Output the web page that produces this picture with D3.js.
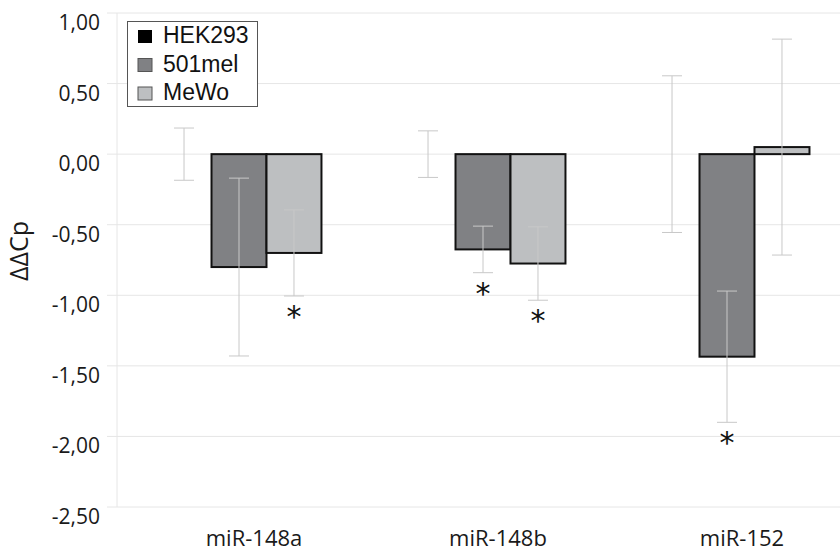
<!DOCTYPE html>
<html>
<head>
<meta charset="utf-8">
<script src="https://cdnjs.cloudflare.com/ajax/libs/d3/7.8.5/d3.min.js"></script>
<style>
  body { margin: 0; background: #fff; }
  svg { display: block; }
</style>
</head>
<body>
<svg id="chart" width="840" height="553"></svg>
<script>
// data
var categories = ["miR-148a", "miR-148b", "miR-152"];
var seriesNames = ["HEK293", "501mel", "MeWo"];
var hek293 = [0, 0, 0];
var hek293Err = [0.185, 0.165, 0.555];
var mel501 = [-0.80, -0.675, -1.435];
var mel501Err = [0.63, 0.165, 0.465];
var mewo = [-0.70, -0.775, 0.05];
var mewoErr = [0.305, 0.26, 0.765];
var mel501Sig = [false, true, true];
var mewoSig = [true, true, false];
var yTicks = [1, 0.5, 0, -0.5, -1, -1.5, -2, -2.5];

var colors = { "HEK293": "#000000", "501mel": "#808184", "MeWo": "#bdbfc1" };

var svg = d3.select("#chart");
var plotLeft = 117, plotRight = 849, plotTop = 13, plotBottom = 507;

var y = d3.scaleLinear().domain([-2.5, 1]).range([plotBottom, plotTop]);
var x0 = d3.scaleBand().domain(categories).range([plotLeft, plotRight])
    .paddingInner(0.324).paddingOuter(0.162);
var x1 = d3.scaleBand().domain(seriesNames).range([0, x0.bandwidth()]);

var rows = [];
categories.forEach(function (c, i) {
    rows.push({ cat: c, s: "HEK293", v: hek293[i], e: hek293Err[i], sig: false });
    rows.push({ cat: c, s: "501mel", v: mel501[i], e: mel501Err[i], sig: mel501Sig[i] });
    rows.push({ cat: c, s: "MeWo", v: mewo[i], e: mewoErr[i], sig: mewoSig[i] });
});

// gridlines
svg.append("g").selectAll("line")
    .data(yTicks)
    .enter().append("line")
    .attr("x1", plotLeft - 10).attr("x2", 840)
    .attr("y1", function (d) { return y(d); })
    .attr("y2", function (d) { return y(d); })
    .attr("stroke", "#e6e6e6").attr("stroke-width", 1);

svg.append("line")
    .attr("x1", plotLeft).attr("x2", plotLeft)
    .attr("y1", plotTop).attr("y2", plotBottom)
    .attr("stroke", "#e6e6e6");

// y tick labels (sit a bit below their gridline in the original)
var fmt = function (d) { return d3.format(".2f")(d).replace(".", ",").replace("−", "-"); };
svg.append("g").selectAll("text")
    .data(yTicks)
    .enter().append("text")
    .attr("x", 100)
    .attr("y", function (d) { return y(d) + 17; })
    .attr("text-anchor", "end")
    .attr("font-family", "Open Sans")
    .attr("font-size", 21)
    .attr("fill", "#1a1a1a")
    .text(fmt);

// bars
var bars = svg.append("g");
bars.selectAll("rect")
    .data(rows.filter(function (d) { return d.v !== 0; }))
    .enter().append("rect")
    .attr("x", function (d) { return x0(d.cat) + x1(d.s); })
    .attr("width", x1.bandwidth())
    .attr("y", function (d) { return Math.min(y(d.v), y(0)); })
    .attr("height", function (d) { return Math.abs(y(d.v) - y(0)); })
    .attr("fill", function (d) { return colors[d.s]; })
    .attr("stroke", "#111")
    .attr("stroke-width", 2);

// error bars
var err = svg.append("g").attr("stroke", "#c8c8c8").attr("stroke-width", 1);
rows.forEach(function (d) {
    var cx = x0(d.cat) + x1(d.s) + x1.bandwidth() / 2;
    err.append("line").attr("x1", cx).attr("x2", cx)
        .attr("y1", y(d.v + d.e)).attr("y2", y(d.v - d.e));
    [d.v + d.e, d.v - d.e].forEach(function (v) {
        err.append("line").attr("x1", cx - 10).attr("x2", cx + 10)
            .attr("y1", y(v)).attr("y2", y(v));
    });
});

// significance stars
svg.append("g").selectAll("text")
    .data(rows.filter(function (d) { return d.sig; }))
    .enter().append("text")
    .attr("x", function (d) { return x0(d.cat) + x1(d.s) + x1.bandwidth() / 2; })
    .attr("y", function (d) { return y(d.v - d.e) + 31; })
    .attr("text-anchor", "middle")
    .attr("font-family", "DejaVu Sans")
    .attr("font-size", 30)
    .attr("fill", "#111")
    .text("*");

// x labels
svg.append("g").selectAll("text")
    .data(categories)
    .enter().append("text")
    .attr("x", function (d) { return x0(d) + x0.bandwidth() / 2 + 15; })
    .attr("y", 546)
    .attr("text-anchor", "middle")
    .attr("font-family", "Open Sans")
    .attr("font-size", 22)
    .attr("fill", "#1a1a1a")
    .text(function (d) { return d; });

// y axis title
svg.append("text")
    .attr("transform", "translate(28,251) rotate(-90)")
    .attr("text-anchor", "middle")
    .attr("font-family", "Open Sans")
    .attr("font-size", 25)
    .attr("fill", "#1a1a1a")
    .text("ΔΔCp");

// legend
var legend = svg.append("g");
legend.append("rect")
    .attr("x", 127.5).attr("y", 21.5).attr("width", 130).attr("height", 85)
    .attr("fill", "#fff").attr("stroke", "#555").attr("stroke-width", 1);
seriesNames.forEach(function (s, i) {
    var by = 43 + i * 28.5;
    legend.append("rect")
        .attr("x", 138).attr("y", by - 13).attr("width", 14).attr("height", 13)
        .attr("fill", colors[s])
        .attr("stroke", i === 0 ? "none" : "#555").attr("stroke-width", 1);
    legend.append("text")
        .attr("x", 163).attr("y", by)
        .attr("font-family", "Liberation Sans")
        .attr("font-size", 23)
        .attr("fill", "#111")
        .text(s);
});
</script>
</body>
</html>
